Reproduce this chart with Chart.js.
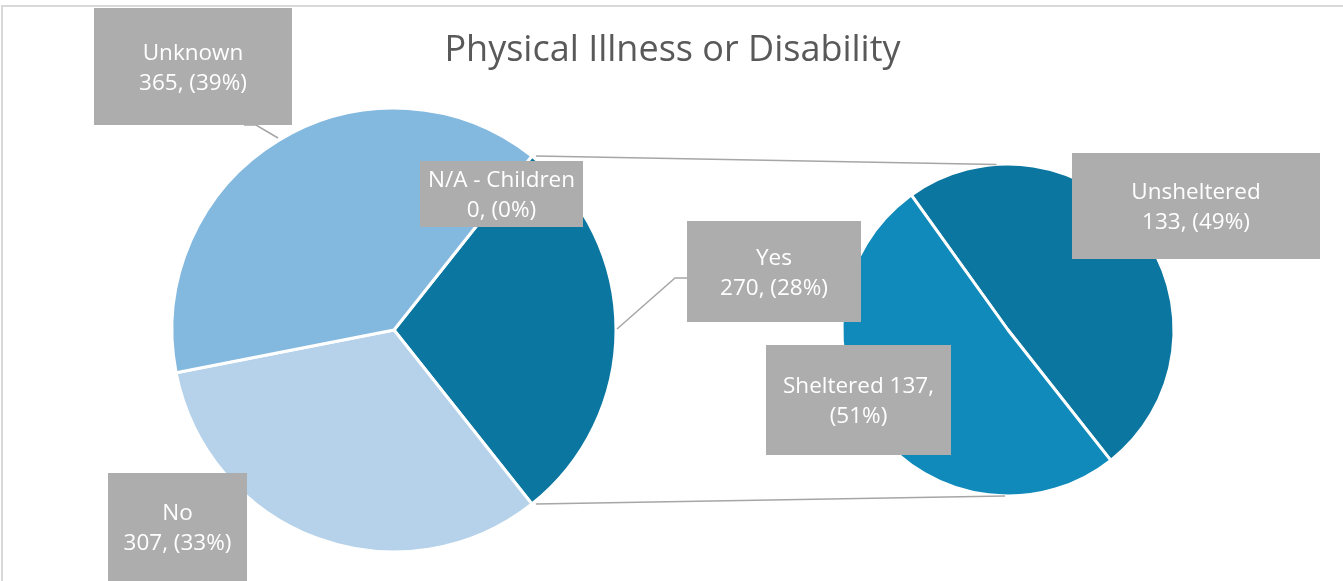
<!DOCTYPE html>
<html><head><meta charset="utf-8">
<script src="https://cdn.jsdelivr.net/npm/chart.js@4.4.1/dist/chart.umd.min.js"></script>
<style>
html,body{margin:0;padding:0;background:#fff;}
#wrap{position:relative;width:1343px;height:581px;overflow:hidden;background:#fff;}
#frame{position:absolute;left:1px;top:5px;width:1400px;height:700px;border-left:2px solid #D9D9D9;border-top:2px solid #D9D9D9;}
canvas{position:absolute;left:0;top:0;}
</style></head><body>
<div id="wrap"><div id="frame"></div>
<canvas id="main" width="1343" height="581"></canvas>
<canvas id="sub" width="1343" height="581"></canvas>
</div>
<script>
const chartTitle = 'Physical Illness or Disability';
const mainLabels = ['Yes', 'No', 'Unknown', 'N/A - Children'];
const mainValues = [270, 307, 365, 0];
const mainPercents = [28, 33, 39, 0];
const mainColors = ['#0B76A0', '#B5D2EA', '#83B8DF', '#5B9BD5'];
const subLabels = ['Unsheltered', 'Sheltered'];
const subValues = [133, 137];
const subPercents = [49, 51];
const subColors = ['#0B76A0', '#0F8ABB'];

const FONT = '"Open Sans", "Liberation Sans", sans-serif';
const mainTotal = mainValues.reduce((a, b) => a + b, 0);
// Excel pie-of-pie: split slice centred on the right
const mainRotation = 90 - (mainValues[0] / mainTotal * 360) / 2;

const mainChart = new Chart(document.getElementById('main'), {
  type: 'pie',
  data: { labels: mainLabels, datasets: [{ data: mainValues, backgroundColor: mainColors, borderColor: '#ffffff', borderWidth: 3, hoverOffset: 0 }] },
  options: {
    responsive: false, animation: false, events: [],
    rotation: mainRotation,
    radius: 222,
    layout: { padding: { left: 0, right: 555, top: 79, bottom: 0 } },
    plugins: { legend: { display: false }, tooltip: { enabled: false }, title: { display: false } }
  }
});

// box layouts relative to pie centre: [dx, dy, w, h]
const mainBoxes = [[293, -109, 174, 101], [-286, 143, 139, 112], [-300, -322, 198, 117], [26, -169, 163, 66]];
const subBoxes = [[64, -177, 248, 106], [-242, 15, 185, 110]];

function mainText(i) { return [mainLabels[i], mainValues[i] + ', (' + mainPercents[i] + '%)']; }
function subText(i) {
  if (i === 1) return [subLabels[i] + ' ' + subValues[i] + ',', '(' + subPercents[i] + '%)'];
  return [subLabels[i], subValues[i] + ', (' + subPercents[i] + '%)'];
}

function drawBox(ctx, cx, cy, b, lines) {
  ctx.fillStyle = '#ADADAD';
  ctx.fillRect(cx + b[0], cy + b[1], b[2], b[3]);
  ctx.fillStyle = '#FFFFFF';
  ctx.font = '22.5px ' + FONT;
  ctx.textAlign = 'center';
  ctx.textBaseline = 'middle';
  const mx = cx + b[0] + b[2] / 2;
  const h2 = cy + b[1] + (b[1] > 100 ? 56 : b[3] / 2 + 2);
  lines.forEach((t, k) => ctx.fillText(t, mx, h2 + (k - (lines.length - 1) / 2) * 30));
}

const overlay = {
  id: 'overlay',
  afterDraw(chart) {
    const ctx = chart.ctx;
    ctx.save();
    // title
    ctx.fillStyle = '#595959';
    ctx.font = '36px ' + FONT;
    ctx.textAlign = 'center';
    ctx.textBaseline = 'middle';
    ctx.fillText(chartTitle, chart.width / 2 + 1, 51);

    const ma = mainChart.getDatasetMeta(0).data;
    const sa = chart.getDatasetMeta(0).data;
    const yes = ma[0].getProps(['x', 'y', 'startAngle', 'endAngle', 'outerRadius'], true);
    const sp = sa[0].getProps(['x', 'y', 'outerRadius'], true);
    const mx = yes.x, my = yes.y, R = yes.outerRadius;
    const sx = sp.x, sy = sp.y, r = sp.outerRadius;

    // connector lines
    ctx.strokeStyle = '#A6A6A6';
    ctx.lineWidth = 1.5;
    const a1 = -94 * Math.PI / 180, a2 = 91 * Math.PI / 180;
    ctx.beginPath();
    ctx.moveTo(mx + R * Math.cos(yes.startAngle) + 4, my + R * Math.sin(yes.startAngle));
    ctx.lineTo(sx + r * Math.cos(a1), sy + r * Math.sin(a1));
    ctx.moveTo(mx + R * Math.cos(yes.endAngle) + 4, my + R * Math.sin(yes.endAngle));
    ctx.lineTo(sx + r * Math.cos(a2), sy + r * Math.sin(a2));
    ctx.stroke();

    // leader lines
    const yb = mainBoxes[0];
    ctx.beginPath();
    ctx.moveTo(mx + R + 1, my - 1);
    ctx.lineTo(mx + yb[0] - 12, my - 52);
    ctx.lineTo(mx + yb[0], my - 52);
    const ub = mainBoxes[2];
    ctx.moveTo(mx + ub[0] + ub[2] - 48, my + ub[1] + ub[3]);
    ctx.lineTo(mx + ub[0] + ub[2] - 36, my + ub[1] + ub[3]);
    ctx.lineTo(mx + ub[0] + ub[2] - 14, my + ub[1] + ub[3] + 13);
    ctx.stroke();

    // label boxes
    mainBoxes.forEach((b, i) => drawBox(ctx, mx, my, b, mainText(i)));
    subBoxes.forEach((b, i) => drawBox(ctx, sx, sy, b, subText(i)));
    ctx.restore();
  }
};

const subChart = new Chart(document.getElementById('sub'), {
  type: 'pie',
  data: { labels: subLabels, datasets: [{ data: subValues, backgroundColor: subColors, borderColor: '#ffffff', borderWidth: 3, hoverOffset: 0 }] },
  options: {
    responsive: false, animation: false, events: [],
    rotation: -35.6,
    radius: 166,
    layout: { padding: { left: 673, right: 0, top: 79, bottom: 0 } },
    plugins: { legend: { display: false }, tooltip: { enabled: false }, title: { display: false } }
  },
  plugins: [overlay]
});
</script>
</body></html>
